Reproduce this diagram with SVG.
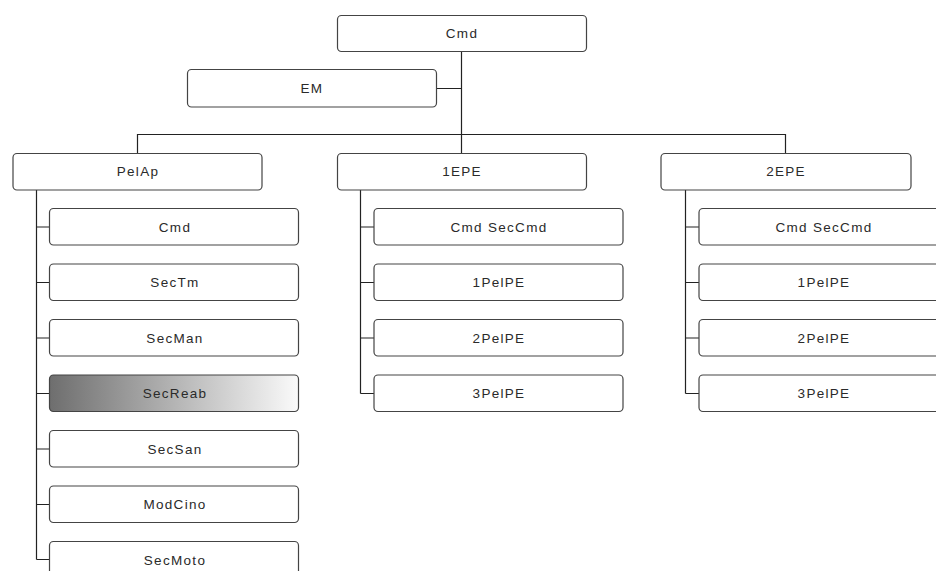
<svg xmlns="http://www.w3.org/2000/svg" width="936" height="571" viewBox="0 0 936 571">
<defs>
<linearGradient id="g" x1="0" y1="0" x2="1" y2="0">
<stop offset="0" stop-color="#6e6e6e"/>
<stop offset="1" stop-color="#fafafa"/>
</linearGradient>
<style>
.b{fill:#fff;stroke:#444;stroke-width:1.2}
.t{font-family:"Liberation Sans",Arial,sans-serif;font-size:13.5px;letter-spacing:1.3px;fill:#2a2a2a;text-anchor:middle}
.c{stroke:#222;stroke-width:1.2;fill:none}
</style>
</defs>
<rect width="936" height="571" fill="#fff"/>
<g id="connectors">
<path class="c" d="M461.5 51.5V153.5M436.5 88.5H461.5M137.5 153.5V134.5H785.5V153.5"/>
<path class="c" d="M36.5 190V559.5M36.5 227H49.5M36.5 282.5H49.5M36.5 338H49.5M36.5 393.5H49.5M36.5 449H49.5M36.5 504.5H49.5M36.5 559.5H49.5"/>
<path class="c" d="M360.5 190V393.5M360.5 227H374M360.5 282.5H374M360.5 338H374M360.5 393.5H374"/>
<path class="c" d="M685.5 190V393.5M685.5 227H699M685.5 282.5H699M685.5 338H699M685.5 393.5H699"/>
</g>
<g id="n-cmd"><rect class="b" x="337.5" y="15.5" width="249" height="36" rx="4"/><text class="t" x="462" y="38">Cmd</text></g>
<g id="n-em"><rect class="b" x="187.5" y="69.5" width="249" height="37.5" rx="4"/><text class="t" x="312" y="93">EM</text></g>
<g id="n-pelap"><rect class="b" x="13" y="153.5" width="249" height="36.5" rx="4"/><text class="t" x="138" y="176">PelAp</text></g>
<g id="n-1epe"><rect class="b" x="337.5" y="153.5" width="249" height="36.5" rx="4"/><text class="t" x="462" y="176">1EPE</text></g>
<g id="n-2epe"><rect class="b" x="661" y="153.5" width="250" height="36.5" rx="4"/><text class="t" x="786" y="176">2EPE</text></g>

<g id="n-p-cmd"><rect class="b" x="49.5" y="208.5" width="249" height="36.5" rx="4"/><text class="t" x="175" y="231.5">Cmd</text></g>
<g id="n-p-sectm"><rect class="b" x="49.5" y="264" width="249" height="36.5" rx="4"/><text class="t" x="175" y="287">SecTm</text></g>
<g id="n-p-secman"><rect class="b" x="49.5" y="319.5" width="249" height="36.5" rx="4"/><text class="t" x="175" y="342.5">SecMan</text></g>
<g id="n-p-secreab"><rect class="b" x="49.5" y="375" width="249" height="36.5" rx="4" style="fill:url(#g)"/><text class="t" x="175" y="398">SecReab</text></g>
<g id="n-p-secsan"><rect class="b" x="49.5" y="430.5" width="249" height="36.5" rx="4"/><text class="t" x="175" y="453.5">SecSan</text></g>
<g id="n-p-modcino"><rect class="b" x="49.5" y="486" width="249" height="36.5" rx="4"/><text class="t" x="175" y="509">ModCino</text></g>
<g id="n-p-secmoto"><rect class="b" x="49.5" y="541.5" width="249" height="36.5" rx="4"/><text class="t" x="175" y="564.5">SecMoto</text></g>

<g id="n-1-cmd"><rect class="b" x="374" y="208.5" width="249" height="36.5" rx="4"/><text class="t" x="499" y="231.5">Cmd SecCmd</text></g>
<g id="n-1-1pel"><rect class="b" x="374" y="264" width="249" height="36.5" rx="4"/><text class="t" x="499" y="287">1PelPE</text></g>
<g id="n-1-2pel"><rect class="b" x="374" y="319.5" width="249" height="36.5" rx="4"/><text class="t" x="499" y="342.5">2PelPE</text></g>
<g id="n-1-3pel"><rect class="b" x="374" y="375" width="249" height="36.5" rx="4"/><text class="t" x="499" y="398">3PelPE</text></g>

<g id="n-2-cmd"><rect class="b" x="699" y="208.5" width="249" height="36.5" rx="4"/><text class="t" x="824" y="231.5">Cmd SecCmd</text></g>
<g id="n-2-1pel"><rect class="b" x="699" y="264" width="249" height="36.5" rx="4"/><text class="t" x="824" y="287">1PelPE</text></g>
<g id="n-2-2pel"><rect class="b" x="699" y="319.5" width="249" height="36.5" rx="4"/><text class="t" x="824" y="342.5">2PelPE</text></g>
<g id="n-2-3pel"><rect class="b" x="699" y="375" width="249" height="36.5" rx="4"/><text class="t" x="824" y="398">3PelPE</text></g>
</svg>
